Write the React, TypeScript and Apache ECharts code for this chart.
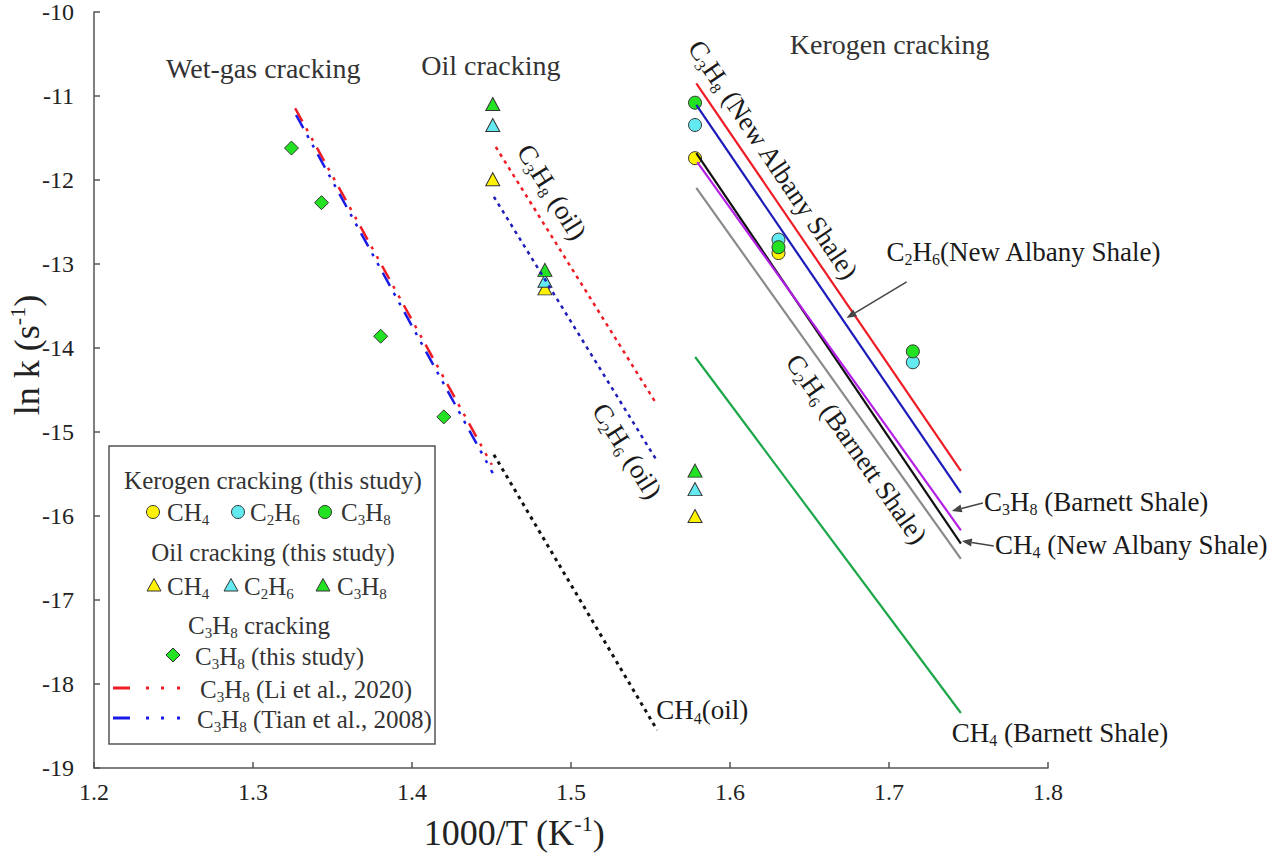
import React, { useEffect, useRef } from "react";
import * as echarts from "echarts";

const FONT = "'Liberation Serif', 'Times New Roman', serif";

// Axis ranges and ticks
const X_MIN = 1.2;
const X_MAX = 1.8;
const X_STEP = 0.1;
const Y_MIN = -19;
const Y_MAX = -10;
const Y_STEP = 1;

// Kerogen cracking (this study), [1000/T, ln k]
const kerogenCH4 = [[1.578, -11.74], [1.6305, -12.87]];
const kerogenC2H6 = [[1.578, -11.345], [1.6305, -12.71], [1.715, -14.17]];
const kerogenC3H8 = [[1.578, -11.08], [1.6305, -12.8], [1.715, -14.04]];

// Oil cracking (this study)
const oilCH4 = [[1.4508, -11.99], [1.4836, -13.29], [1.578, -16.0]];
const oilC2H6 = [[1.4508, -11.345], [1.4836, -13.2], [1.578, -15.68]];
const oilC3H8 = [[1.4508, -11.095], [1.4836, -13.07], [1.578, -15.46]];

// C3H8 cracking (this study)
const propaneCracking = [[1.3242, -11.62], [1.3431, -12.27], [1.3803, -13.86], [1.42, -14.82]];

// Literature Arrhenius lines
const liC3H8 = [[1.3265, -11.146], [1.4502, -15.39]];
const tianC3H8 = [[1.3271, -11.226], [1.4508, -15.49]];

// Oil cracking kinetics
const oilLineC3H8 = [[1.4527, -11.607], [1.5529, -14.64]];
const oilLineC2H6 = [[1.4515, -12.2], [1.5536, -15.33]];
const oilLineCH4 = [[1.4515, -15.27], [1.5542, -18.55]];

// Shale kerogen kinetics
const naC3H8 = [[1.5788, -10.849], [1.7452, -15.464]];
const naC2H6 = [[1.5788, -11.107], [1.7452, -15.726]];
const naCH4 = [[1.5788, -11.68], [1.7452, -16.33]];
const bsC3H8 = [[1.5794, -11.786], [1.7452, -16.17]];
const bsC2H6 = [[1.5788, -12.095], [1.7452, -16.51]];
const bsCH4 = [[1.5781, -14.107], [1.7452, -18.345]];

const YELLOW = "#fff200";
const CYAN = "#62eaf0";
const GREEN = "#22e222";
const RED = "#ee1c24";
const BLUE_LIT = "#1a1ae6";
const BLUE_DARK = "#1c1cb8";
const MAGENTA = "#b41ee6";
const GRAY = "#8a8a8a";
const DARKGREEN = "#1da64a";
const INK = "#1a1a1a";
const SOFT_INK = "#333333";

const DASH_DOT_DOT = [15, 8, 3, 8, 3, 8];
const DOTTED = [3.5, 4.5];

// Annotation anchors in data coordinates
const headerLabels = [
  { text: "Wet-gas cracking", at: [1.3065, -10.667] },
  { text: "Oil cracking", at: [1.4496, -10.631] },
  { text: "Kerogen cracking", at: [1.7004, -10.381] },
];
const slantedLabels = [
  { text: "C_3H_8 (New Albany Shale)", at: [1.6273, -11.762], angle: 56 },
  { text: "C_3H_8 (oil)", at: [1.488, -12.143], angle: 58 },
  { text: "C_2H_6 (oil)", at: [1.5353, -15.226], angle: 58 },
  { text: "C_2H_6 (Barnett Shale)", at: [1.6796, -15.202], angle: 55 },
];
const sideLabels = [
  { text: "C_2H_6(New Albany Shale)", at: [1.6985, -12.857] },
  { text: "C_3H_8 (Barnett Shale)", at: [1.7597, -15.833] },
  { text: "CH_4 (New Albany Shale)", at: [1.7666, -16.345] },
  { text: "CH_4 (Barnett Shale)", at: [1.7395, -18.583] },
  { text: "CH_4(oil)", at: [1.5536, -18.31] },
];
const arrows = [
  { from: [1.7111, -13.214], to: [1.6733, -13.643] },
  { from: [1.759, -15.845], to: [1.7395, -15.94] },
  { from: [1.7659, -16.357], to: [1.7458, -16.298] },
];

// "_x" marks a one-character subscript, "^{..}" a superscript
function toRich(s: string): string {
  let out = "";
  let buf = "";
  const flush = () => {
    if (buf) {
      out += `{n|${buf}}`;
      buf = "";
    }
  };
  for (let i = 0; i < s.length; i++) {
    const c = s[i];
    if (c === "_") {
      flush();
      out += `{s|${s[i + 1]}}`;
      i++;
    } else if (c === "^") {
      flush();
      const j = s.indexOf("}", i);
      out += `{p|${s.slice(i + 2, j)}}`;
      i = j;
    } else {
      buf += c;
    }
  }
  flush();
  return out;
}

function richStyles(size: number, color: string) {
  const small = Math.round(size * 0.6);
  return {
    n: { fontSize: size, fontFamily: FONT, fill: color, color },
    s: { fontSize: small, fontFamily: FONT, fill: color, color, padding: [Math.round(size * 0.6), 0, 0, 0] },
    p: { fontSize: small, fontFamily: FONT, fill: color, color, padding: [0, 0, Math.round(size * 0.55), 0] },
  };
}

function richText(x: number, y: number, text: string, size: number, color: string, align = "left", rotationDeg = 0) {
  return {
    type: "text",
    x,
    y,
    rotation: (-rotationDeg * Math.PI) / 180,
    silent: true,
    z: 50,
    style: {
      text: toRich(text),
      rich: richStyles(size, color),
      align,
      verticalAlign: "middle",
      fontFamily: FONT,
      fontSize: size,
      fill: color,
    },
  };
}

function scatter(name: string, data: number[][], symbol: string, size: any, color: string) {
  return {
    type: "scatter",
    name,
    data,
    symbol,
    symbolSize: size,
    z: 2,
    itemStyle: { color, borderColor: "#333", borderWidth: 1, opacity: 1 },
    silent: true,
  };
}

function line(name: string, data: number[][], color: string, width: number, type: any) {
  return {
    type: "line",
    name,
    data,
    showSymbol: false,
    symbol: "none",
    z: 3,
    silent: true,
    lineStyle: { color, width, type, cap: "butt" },
  };
}

function legendGraphics() {
  const els: any[] = [];
  els.push({
    type: "rect",
    shape: { x: 109, y: 446, width: 326, height: 298 },
    style: { fill: "#fff", stroke: "#555", lineWidth: 1.5 },
    z: 40,
    silent: true,
  });
  const L = 25;
  els.push(richText(273, 480, "Kerogen cracking (this study)", L, SOFT_INK, "center"));
  const circ = (cx: number, cy: number, fill: string) => ({
    type: "circle",
    shape: { cx, cy, r: 6.5 },
    style: { fill, stroke: "#333", lineWidth: 1 },
    z: 45,
    silent: true,
  });
  els.push(circ(153, 512, YELLOW), richText(167, 512, "CH_4", L, SOFT_INK));
  els.push(circ(238, 512, CYAN), richText(250, 512, "C_2H_6", L, SOFT_INK));
  els.push(circ(325, 512, GREEN), richText(341, 512, "C_3H_8", L, SOFT_INK));
  els.push(richText(273, 552, "Oil cracking (this study)", L, SOFT_INK, "center"));
  const tri = (cx: number, cy: number, fill: string) => ({
    type: "polygon",
    shape: { points: [[cx, cy - 6.5], [cx + 7, cy + 6], [cx - 7, cy + 6]] },
    style: { fill, stroke: "#333", lineWidth: 1 },
    z: 45,
    silent: true,
  });
  els.push(tri(154, 585, YELLOW), richText(167, 586, "CH_4", L, SOFT_INK));
  els.push(tri(231, 585, CYAN), richText(244, 586, "C_2H_6", L, SOFT_INK));
  els.push(tri(323, 585, GREEN), richText(337, 586, "C_3H_8", L, SOFT_INK));
  els.push(richText(259, 625, "C_3H_8 cracking", L, SOFT_INK, "center"));
  els.push({
    type: "polygon",
    shape: { points: [[173, 648], [180, 655], [173, 662], [166, 655]] },
    style: { fill: GREEN, stroke: "#333", lineWidth: 1 },
    z: 45,
    silent: true,
  });
  els.push(richText(195, 656, "C_3H_8 (this study)", L, SOFT_INK));
  const sample = (y: number, color: string) => {
    const segs = [[113, 130], [146, 149], [161, 164], [177, 180]];
    return segs.map(([a, b]) => ({
      type: "line",
      shape: { x1: a, y1: y, x2: b, y2: y },
      style: { stroke: color, lineWidth: 3 },
      z: 45,
      silent: true,
    }));
  };
  els.push(...sample(688, RED), richText(200, 689, "C_3H_8 (Li et al., 2020)", L, SOFT_INK));
  els.push(...sample(718, BLUE_LIT), richText(197, 719, "C_3H_8 (Tian et al., 2008)", L, SOFT_INK));
  return els;
}

export default function App() {
  const ref = useRef<HTMLDivElement>(null);

  useEffect(() => {
    if (!ref.current) return;
    const chart = echarts.init(ref.current, null, { renderer: "svg" });

    const axisCommon = {
      type: "value",
      axisLine: { show: true, lineStyle: { color: "#555", width: 1.5 } },
      axisTick: { show: true, inside: true, length: 6, lineStyle: { color: "#555", width: 1.5 } },
      splitLine: { show: false },
    };

    const option: any = {
      animation: false,
      backgroundColor: "#ffffff",
      textStyle: { fontFamily: FONT },
      grid: { left: 94, right: 232, top: 12, bottom: 92, containLabel: false, outerBoundsMode: "none" },
      xAxis: {
        ...axisCommon,
        min: X_MIN,
        max: X_MAX,
        interval: X_STEP,
        axisLabel: {
          formatter: (v: number) => v.toFixed(1),
          fontFamily: FONT,
          fontSize: 24,
          color: "#222",
          margin: 12,
        },
        name: toRich("1000/T (K^{-1})"),
        nameLocation: "middle",
        nameGap: 44,
        nameMoveOverlap: false,
        nameTextStyle: { rich: richStyles(36, "#222"), padding: [0, 114, 0, 0] },
      },
      yAxis: {
        ...axisCommon,
        min: Y_MIN,
        max: Y_MAX,
        interval: Y_STEP,
        axisLabel: { fontFamily: FONT, fontSize: 24, color: "#222", margin: 20 },
        name: toRich("ln k (s^{-1})"),
        nameLocation: "middle",
        nameGap: 46,
        nameMoveOverlap: false,
        nameTextStyle: { rich: richStyles(36, "#222"), padding: [0, 0, 0, 70] },
      },
      series: [
        scatter("Kerogen CH4", kerogenCH4, "circle", 13, YELLOW),
        scatter("Kerogen C2H6", kerogenC2H6, "circle", 13, CYAN),
        scatter("Kerogen C3H8", kerogenC3H8, "circle", 13, GREEN),
        scatter("Oil CH4", oilCH4, "triangle", [14, 13], YELLOW),
        scatter("Oil C2H6", oilC2H6, "triangle", [14, 13], CYAN),
        scatter("Oil C3H8", oilC3H8, "triangle", [14, 13], GREEN),
        scatter("C3H8 cracking", propaneCracking, "diamond", 14, GREEN),
        line("C3H8 (Li et al., 2020)", liC3H8, RED, 2.5, DASH_DOT_DOT),
        line("C3H8 (Tian et al., 2008)", tianC3H8, BLUE_LIT, 2.5, DASH_DOT_DOT),
        line("C3H8 (oil)", oilLineC3H8, RED, 2.5, DOTTED),
        line("C2H6 (oil)", oilLineC2H6, BLUE_DARK, 2.5, DOTTED),
        line("CH4 (oil)", oilLineCH4, "#111", 3, DOTTED),
        line("C3H8 (New Albany Shale)", naC3H8, RED, 2.2, "solid"),
        line("C2H6 (New Albany Shale)", naC2H6, BLUE_DARK, 2.2, "solid"),
        line("CH4 (New Albany Shale)", naCH4, "#111", 2.2, "solid"),
        line("C3H8 (Barnett Shale)", bsC3H8, MAGENTA, 2.2, "solid"),
        line("C2H6 (Barnett Shale)", bsC2H6, GRAY, 2.2, "solid"),
        line("CH4 (Barnett Shale)", bsCH4, DARKGREEN, 2.2, "solid"),
      ],
    };
    chart.setOption(option);

    const px = (p: number[]) => chart.convertToPixel({ gridIndex: 0 }, p) as number[];
    const graphics: any[] = [];
    headerLabels.forEach((h) => {
      const [x, y] = px(h.at);
      graphics.push(richText(x, y, h.text, 28, SOFT_INK, "center"));
    });
    slantedLabels.forEach((s) => {
      const [x, y] = px(s.at);
      graphics.push(richText(x, y, s.text, 27, INK, "center", s.angle));
    });
    sideLabels.forEach((s) => {
      const [x, y] = px(s.at);
      graphics.push(richText(x, y, s.text, 27, INK, "left"));
    });
    arrows.forEach((a) => {
      const [x1, y1] = px(a.from);
      const [x2, y2] = px(a.to);
      const ang = Math.atan2(y2 - y1, x2 - x1);
      const hl = 10;
      const hw = 4;
      const bx = x2 - hl * Math.cos(ang);
      const by = y2 - hl * Math.sin(ang);
      graphics.push({
        type: "line",
        shape: { x1, y1, x2: bx, y2: by },
        style: { stroke: "#444", lineWidth: 1.5 },
        z: 50,
        silent: true,
      });
      graphics.push({
        type: "polygon",
        shape: {
          points: [
            [x2, y2],
            [bx - hw * Math.sin(ang), by + hw * Math.cos(ang)],
            [bx + hw * Math.sin(ang), by - hw * Math.cos(ang)],
          ],
        },
        style: { fill: "#444" },
        z: 50,
        silent: true,
      });
    });
    graphics.push(...legendGraphics());
    chart.setOption({ graphic: graphics });

    return () => chart.dispose();
  }, []);

  return (
    <div
      ref={ref}
      style={{ position: "fixed", left: 0, top: 0, width: 1280, height: 860, background: "#fff" }}
    />
  );
}
